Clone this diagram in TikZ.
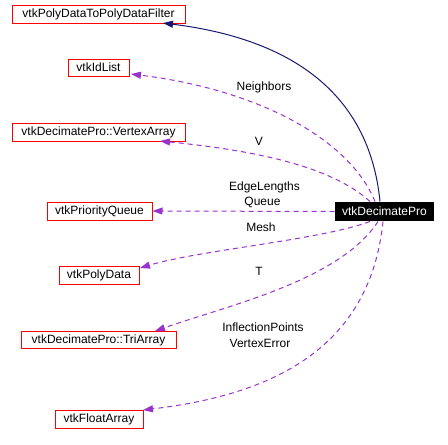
\documentclass[tikz,border=0pt]{standalone}
\usepackage{fontspec}
\setmainfont{Liberation Sans}
\usetikzlibrary{arrows.meta}
\definecolor{edgenavy}{HTML}{191970}
\definecolor{edgeorchid}{HTML}{9A32CD}
\begin{document}
\begin{tikzpicture}[x=1pt,y=-1pt,
  font=\fontsize{12}{14}\selectfont,
  cls/.style={draw=red,line width=1pt,inner sep=0pt,minimum height=18pt,text height=9.5pt,text depth=2.5pt},
  inherit/.style={draw=edgenavy,line width=1pt,-{Triangle[length=10pt,width=7pt]}},
  uses/.style={draw=edgeorchid,line width=1pt,dash pattern=on 5pt off 4pt,-{Triangle[length=10pt,width=7pt]}},
  lbl/.style={inner sep=0pt,anchor=base}]
  \useasboundingbox (0,0) rectangle (448,445);
  % classes
  \node[cls,minimum width=173pt] (filter) at (98.5,14) {vtkPolyDataToPolyDataFilter};
  \node[cls,minimum width=61pt,minimum height=17pt] (idlist) at (98.5,67.5) {vtkIdList};
  \node[cls,minimum width=173pt] (vertex) at (98.5,132) {vtkDecimatePro::VertexArray};
  \node[cls,minimum width=105pt] (queue) at (99.5,211) {vtkPriorityQueue};
  \node[cls,minimum width=80pt] (polydata) at (99,275) {vtkPolyData};
  \node[cls,minimum width=155pt,minimum height=17pt] (triarray) at (98.5,339.5) {vtkDecimatePro::TriArray};
  \node[cls,minimum width=88pt] (floatarray) at (99,419) {vtkFloatArray};
  \node[cls,draw=none,fill=black,text=white,minimum width=99pt,minimum height=19pt] (decimate) at (384.5,211.5) {vtkDecimatePro};
  % helper points on the box borders
  \coordinate (filterend) at (163,23);
  \coordinate (idlistend) at (131,74);
  \coordinate (vertexend) at (160,141);
  \coordinate (polydataend) at (140,268);
  \coordinate (triarrayend) at (155,331);
  \coordinate (floatarrayend) at (143,410);
  % connectors
  \draw[inherit] (decimate.north -| 380,0) .. controls (370,100) and (300,40) .. (filterend);
  \draw[uses] (decimate.north -| 375,0) .. controls (350,140) and (260,90) .. (idlistend);
  \draw[uses] (decimate.north -| 370,0) .. controls (330,165) and (250,150) .. (vertexend);
  \draw[uses] (decimate.west) -- (queue.east);
  \draw[uses] (decimate.south -| 370,0) .. controls (320,240) and (200,250) .. (polydataend);
  \draw[uses] (decimate.south -| 378,0) .. controls (340,280) and (230,305) .. (triarrayend);
  \draw[uses] (decimate.south -| 383,0) .. controls (370,350) and (270,395) .. (floatarrayend);
  % labels
  \node[lbl] (neighbors) at (264,90.5) {Neighbors};
  \node[lbl] (v) at (259,145.5) {V};
  \node[lbl] (edgelengths) at (264.5,190) {EdgeLengths};
  \node[lbl] (queuelbl) at (262.5,205.5) {Queue};
  \node[lbl] (mesh) at (261,231.5) {Mesh};
  \node[lbl] (t) at (259,275.5) {T};
  \node[lbl] (inflection) at (263,331.5) {InflectionPoints};
  \node[lbl] (vertexerror) at (260,347.5) {VertexError};
\end{tikzpicture}
\end{document}
